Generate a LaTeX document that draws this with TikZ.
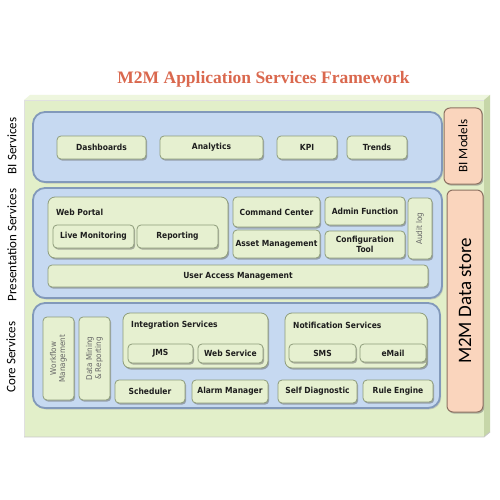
\documentclass[tikz,border=0pt]{standalone}
\usepackage{fontspec}
\setmainfont{DejaVu Sans Condensed}
\newfontfamily\labfont{Carlito}
\newfontfamily\titlefont{Liberation Serif}
\usetikzlibrary{shadows}
\definecolor{bggreen}{HTML}{E2EFC9}
\definecolor{bgtop}{HTML}{EEF6DE}
\definecolor{bgside}{HTML}{C6D6A8}
\definecolor{panelblue}{HTML}{C6D9F1}
\definecolor{panelline}{HTML}{8299BA}
\definecolor{boxgreen}{HTML}{E6F0D0}
\definecolor{boxline}{HTML}{8E9C7A}
\definecolor{peach}{HTML}{FAD5BD}
\definecolor{peachline}{HTML}{8E7262}
\definecolor{titlered}{HTML}{DA684E}
\definecolor{txt}{HTML}{1E1E1E}
\begin{document}
\begin{tikzpicture}[x=1pt,y=-1pt,
  panel/.style={draw=panelline, line width=1.8pt, fill=panelblue, rounded corners=12pt,
    drop shadow={shadow xshift=1.2pt, shadow yshift=-1.5pt, fill=black!35}, inner sep=0pt},
  box/.style={draw=boxline, line width=0.8pt, fill=boxgreen, rounded corners=4pt,
    drop shadow={shadow xshift=1.2pt, shadow yshift=-1.6pt, fill=black!60}, inner sep=0pt,
    font=\fontsize{8.4}{9.4}\selectfont\bfseries, text=txt, align=center},
  group/.style={box, rounded corners=7pt},
  vtext/.style={font=\fontsize{8}{9}\selectfont, text=black!60, rotate=90, inner sep=0pt, align=center},
  pbox/.style={draw=peachline, line width=1pt, fill=peach, rounded corners=6pt,
    drop shadow={shadow xshift=1.2pt, shadow yshift=-1.6pt, fill=black!55}, inner sep=0pt,
    text=txt},
  glabel/.style={font=\fontsize{8.4}{9.4}\selectfont\bfseries, text=txt, inner sep=0pt, anchor=west},
  side/.style={font=\labfont\fontsize{13}{15}\selectfont, text=black, rotate=90, inner sep=0pt}
]
\useasboundingbox (0,0) rectangle (500,500);
\fill[white] (0,0) rectangle (500,500);
% background slab
\fill[bgtop] (24,100) -- (30,95) -- (490,95) -- (484,100) -- cycle;
\fill[bgside] (484,100) -- (490,95) -- (490,432) -- (484,437) -- cycle;
\fill[bggreen] (24,100) rectangle (484,437);
\draw[black!12, line width=0.6pt] (24,437) -- (24,100) -- (484,100);
\draw[black!22, line width=0.8pt] (24,437) -- (484,437) -- (490,432);

% title
\node[font=\titlefont\bfseries\fontsize{17.5}{20}\selectfont, text=titlered, inner sep=0pt] (title) at (263.5,79) {M2M Application Services Framework};

% side labels
\node[side] (lbi) at (12,146) {BI Services};
\node[side] (lpres) at (12,245) {Presentation Services};
\node[side] (lcore) at (11,357) {Core Services};

% BI services
\node[panel, minimum width=409pt, minimum height=70pt] (bip) at (237.5,147) {};
\node[box, minimum width=89pt, minimum height=23pt] (dash) at (101.5,147.5) {Dashboards};
\node[box, minimum width=103pt, minimum height=23pt] (anal) at (211.5,147.5) {Analytics};
\node[box, minimum width=60pt, minimum height=23pt] (kpi) at (307,147.5) {KPI};
\node[box, minimum width=60pt, minimum height=23pt] (trends) at (377,147.5) {Trends};
\node[pbox, minimum width=38pt, minimum height=76pt] (bim) at (463,146) {};
\node[side] (bimt) at (bim.center) {BI Models};

% Presentation services
\node[panel, minimum width=409pt, minimum height=110pt] (presp) at (237.5,243) {};
\node[group, minimum width=180pt, minimum height=61pt] (wp) at (138,227.5) {};
\node[glabel] (wpl) at (56,212) {Web Portal};
\node[box, minimum width=81pt, minimum height=23pt] (live) at (93.5,236.5) {Live Monitoring};
\node[box, minimum width=81pt, minimum height=23pt] (rep) at (177.5,236.5) {Reporting};
\node[box, minimum width=87pt, minimum height=30pt] (cmd) at (276.5,212) {Command Center};
\node[box, minimum width=87pt, minimum height=28pt] (asset) at (276.5,244) {Asset Management};
\node[box, minimum width=80pt, minimum height=28pt] (admin) at (365,211) {Admin Function};
\node[box, minimum width=80pt, minimum height=27pt] (conf) at (365,244.5) {Configuration\\Tool};
\node[box, minimum width=24pt, minimum height=61pt] (audit) at (420,228.5) {};
\node[vtext] (auditt) at (audit.center) {Audit log};
\node[box, minimum width=380pt, minimum height=22pt] (uam) at (238,276) {User Access Management};

% Core services
\node[panel, minimum width=407pt, minimum height=105pt] (corep) at (236.5,355.5) {};
\node[box, minimum width=31pt, minimum height=83pt] (wf) at (58.5,358.5) {};
\node[vtext] (wft) at (wf.center) {Workflow\\Management};
\node[box, minimum width=31pt, minimum height=83pt] (dm) at (94.5,358.5) {};
\node[vtext] (dmt) at (dm.center) {Data Mining\\\& Reporting};
\node[group, minimum width=145pt, minimum height=55pt] (integ) at (195.5,340.5) {};
\node[glabel] (integl) at (131,325) {Integration Services};
\node[box, minimum width=65pt, minimum height=19pt] (jms) at (160.5,353.5) {JMS};
\node[box, minimum width=65pt, minimum height=19pt] (ws) at (230.5,353.5) {Web Service};
\node[group, minimum width=142pt, minimum height=55pt] (notif) at (356,340.5) {};
\node[glabel] (notifl) at (293,325) {Notification Services};
\node[box, minimum width=67pt, minimum height=18pt] (sms) at (322.5,353) {SMS};
\node[box, minimum width=66pt, minimum height=18pt] (email) at (393,353) {eMail};
\node[box, minimum width=70pt, minimum height=23pt] (sched) at (150,391.5) {Scheduler};
\node[box, minimum width=76pt, minimum height=23pt] (alarm) at (230,391.5) {Alarm Manager};
\node[box, minimum width=79pt, minimum height=23pt] (selfd) at (317.5,391.5) {Self Diagnostic};
\node[box, minimum width=70pt, minimum height=22pt] (rule) at (398,391) {Rule Engine};

% Data store
\node[pbox, minimum width=36pt, minimum height=222pt] (ds) at (465,301) {};
\node[side, font=\labfont\fontsize{19}{22}\selectfont] (dst) at (ds.center) {M2M Data store};
\end{tikzpicture}
\end{document}
